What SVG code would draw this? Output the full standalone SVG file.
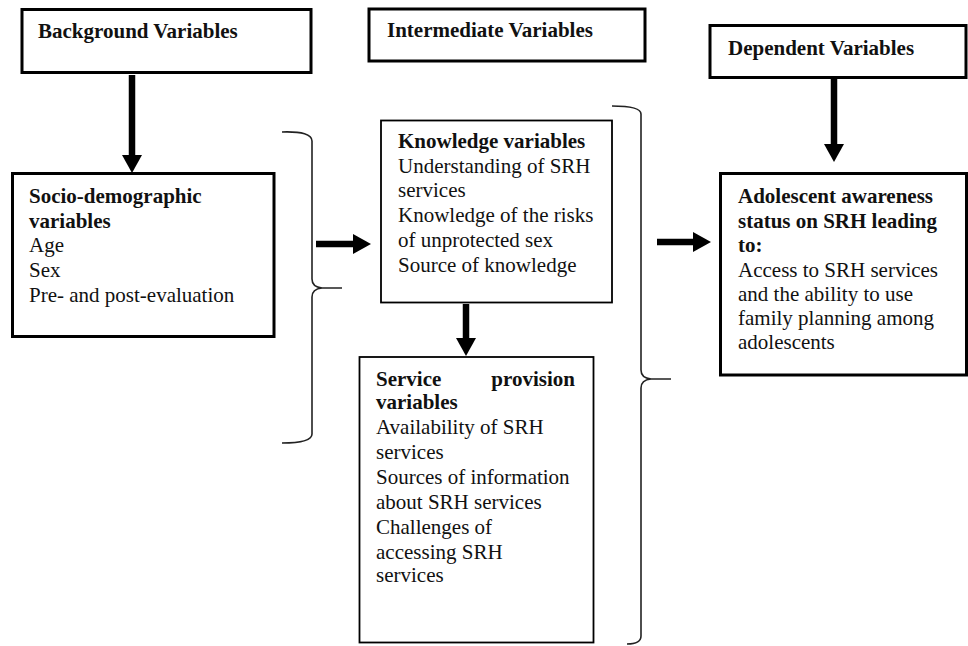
<svg xmlns="http://www.w3.org/2000/svg" width="968" height="646" viewBox="0 0 968 646">
<style>
  .thick { fill: #fff; stroke: #000; stroke-width: 3; }
  .thin { fill: #fff; stroke: #000; stroke-width: 1.8; }
  text { font-family: "Liberation Serif", "Times New Roman", serif; font-size: 21px; fill: #111; }
  .b { font-weight: bold; }
  .conn { stroke: #000; stroke-width: 6.5; fill: none; }
  .brace { stroke: #222; stroke-width: 1.6; fill: none; }
</style>
<defs>
  <marker id="ah" viewBox="0 -10 18 20" refX="0" refY="0" markerWidth="18" markerHeight="20" markerUnits="userSpaceOnUse" orient="auto">
    <path d="M0,-10 L18,0 L0,10 z" fill="#000"/>
  </marker>
</defs>
<rect width="968" height="646" fill="#fff"/>

<g id="background-variables">
  <rect class="thick" x="22" y="9.5" width="289" height="63"/>
  <text class="b" x="38" y="38">Background Variables</text>
</g>

<g id="intermediate-variables">
  <rect class="thick" x="369" y="9" width="276" height="52"/>
  <text class="b" x="387" y="37">Intermediate Variables</text>
</g>

<g id="dependent-variables">
  <rect class="thick" x="710" y="25.5" width="256" height="52"/>
  <text class="b" x="728" y="55">Dependent Variables</text>
</g>

<g id="socio-demographic">
  <rect class="thick" x="12.5" y="173.5" width="261.5" height="163"/>
  <text x="29" y="203"><tspan class="b">Socio-demographic</tspan><tspan class="b" x="29" dy="24.7">variables</tspan><tspan x="29" dy="24.7">Age</tspan><tspan x="29" dy="24.7">Sex</tspan><tspan x="29" dy="24.7">Pre- and post-evaluation</tspan></text>
</g>

<g id="knowledge-variables">
  <rect class="thin" x="381" y="120.5" width="231" height="182"/>
  <text x="398" y="148"><tspan class="b">Knowledge variables</tspan><tspan x="398" dy="24.7">Understanding of SRH</tspan><tspan x="398" dy="24.7">services</tspan><tspan x="398" dy="24.7">Knowledge of the risks</tspan><tspan x="398" dy="24.7">of unprotected sex</tspan><tspan x="398" dy="24.7">Source of knowledge</tspan></text>
</g>

<g id="service-provision">
  <rect class="thin" x="359.5" y="357" width="234" height="285.5"/>
  <text x="376" y="386"><tspan class="b">Service</tspan><tspan class="b" x="575" text-anchor="end">provision</tspan><tspan class="b" x="376" dy="22.5">variables</tspan><tspan x="376" dy="25">Availability of SRH</tspan><tspan x="376" dy="25">services</tspan><tspan x="376" dy="25">Sources of information</tspan><tspan x="376" dy="25">about SRH services</tspan><tspan x="376" dy="25">Challenges of</tspan><tspan x="376" dy="25">accessing SRH</tspan><tspan x="376" dy="23.5">services</tspan></text>
</g>

<g id="adolescent-awareness">
  <rect class="thick" x="720.5" y="173.5" width="246" height="201.5"/>
  <text x="738" y="203"><tspan class="b">Adolescent awareness</tspan><tspan class="b" x="738" dy="24.5">status on SRH leading</tspan><tspan class="b" x="738" dy="24.5">to:</tspan><tspan x="738" dy="24.5">Access to SRH services</tspan><tspan x="738" dy="24.2">and the ability to use</tspan><tspan x="738" dy="24.2">family planning among</tspan><tspan x="738" dy="24.2">adolescents</tspan></text>
</g>

<g id="connectors">
  <path class="brace" d="M282,132 Q312,131 312,141 L312,279 Q312,287 322,288 L342,288 L322,288 Q312,289 312,297 L312,434 Q312,443 282,443"/>
  <path class="brace" d="M612,106 Q641,106 641,114 L641,370 Q641,378 651,379 L671,379 L651,379 Q641,380 641,388 L641,636 Q641,644 627,644"/>
  <line class="conn" x1="132" y1="75" x2="132" y2="155" marker-end="url(#ah)"/>
  <line class="conn" x1="316" y1="244" x2="353" y2="244" marker-end="url(#ah)"/>
  <line class="conn" x1="834" y1="79" x2="834" y2="144" marker-end="url(#ah)"/>
  <line class="conn" x1="657" y1="242" x2="693" y2="242" marker-end="url(#ah)"/>
  <line class="conn" x1="466" y1="304" x2="466" y2="338" marker-end="url(#ah)"/>
</g>
</svg>
